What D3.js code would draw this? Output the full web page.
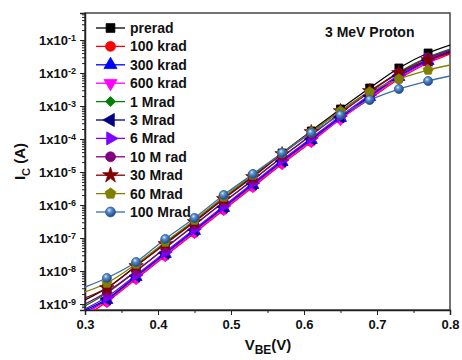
<!DOCTYPE html>
<html>
<head>
<meta charset="utf-8">
<script src="https://cdnjs.cloudflare.com/ajax/libs/d3/7.8.5/d3.min.js"></script>
<style>
  body { margin: 0; background: #fff; }
  svg text { font-family: "Liberation Sans", Arial, sans-serif; font-weight: bold; fill: #111; }
</style>
</head>
<body>
<div id="chart"></div>
<script>
// V_BE sweep (first and last points are only on the fitted lines, no symbol)
var vbe = [0.30, 0.33, 0.37, 0.41, 0.45, 0.49, 0.53, 0.57, 0.61, 0.65, 0.69, 0.73, 0.77, 0.80];

var prerad   = [1.32e-9, 3.05e-9, 1.42e-8, 7.05e-8, 3.27e-7, 1.63e-6, 7.56e-6, 3.76e-5, 1.75e-4, 8.11e-4, 3.51e-3, 1.42e-2, 4.04e-2, 7.05e-2];
var krad100  = [4.33e-10, 1.15e-9, 5.72e-9, 2.85e-8, 1.42e-7, 7.05e-7, 3.51e-6, 1.75e-5, 8.11e-5, 4.04e-4, 1.63e-3, 6.58e-3, 2.01e-2, 3.76e-2];
var krad300  = [5.72e-10, 1.32e-9, 6.58e-9, 3.27e-8, 1.63e-7, 8.11e-7, 4.04e-6, 2.01e-5, 9.33e-5, 4.33e-4, 1.87e-3, 7.56e-3, 2.31e-2, 4.33e-2];
var krad600  = [5.34e-10, 1.23e-9, 6.14e-9, 3.05e-8, 1.52e-7, 7.56e-7, 3.76e-6, 1.87e-5, 8.70e-5, 4.04e-4, 1.75e-3, 7.05e-3, 2.15e-2, 4.04e-2];
var mrad1    = [8.70e-10, 2.15e-9, 1.00e-8, 4.98e-8, 2.48e-7, 1.23e-6, 5.72e-6, 2.85e-5, 1.32e-4, 6.14e-4, 2.66e-3, 1.07e-2, 3.05e-2, 5.34e-2];
var mrad3    = [6.58e-10, 1.42e-9, 7.05e-9, 3.51e-8, 1.75e-7, 8.70e-7, 4.33e-6, 2.15e-5, 1.00e-4, 4.64e-4, 2.01e-3, 8.11e-3, 2.48e-2, 4.64e-2];
var mrad6    = [7.05e-10, 1.63e-9, 7.56e-9, 3.76e-8, 1.87e-7, 9.33e-7, 4.64e-6, 2.31e-5, 1.07e-4, 4.98e-4, 2.15e-3, 8.70e-3, 2.66e-2, 4.98e-2];
var mrad10   = [1.00e-9, 2.31e-9, 1.00e-8, 4.98e-8, 2.48e-7, 1.23e-6, 5.72e-6, 2.85e-5, 1.32e-4, 6.14e-4, 2.66e-3, 1.00e-2, 2.85e-2, 4.98e-2];
var mrad30   = [1.52e-9, 3.05e-9, 1.42e-8, 6.58e-8, 3.05e-7, 1.52e-6, 7.05e-6, 3.51e-5, 1.63e-4, 7.05e-4, 2.85e-3, 1.00e-2, 2.48e-2, 4.04e-2];
var mrad60   = [2.31e-9, 4.33e-9, 1.63e-8, 7.56e-8, 3.51e-7, 1.75e-6, 8.11e-6, 3.76e-5, 1.63e-4, 7.05e-4, 2.66e-3, 6.58e-3, 1.23e-2, 1.75e-2];
var mrad100  = [3.27e-9, 6.14e-9, 1.87e-8, 9.33e-8, 4.04e-7, 2.01e-6, 8.70e-6, 3.76e-5, 1.52e-4, 5.34e-4, 1.52e-3, 3.27e-3, 5.72e-3, 8.11e-3];

var seriesNames = ["prerad", "100 krad", "300 krad", "600 krad", "1 Mrad", "3 Mrad", "6 Mrad", "10 M rad", "30 Mrad", "60 Mrad", "100 Mrad"];
var xTicks = [0.3, 0.4, 0.5, 0.6, 0.7, 0.8];
var yTicks = [1e-9, 1e-8, 1e-7, 1e-6, 1e-5, 1e-4, 1e-3, 1e-2, 1e-1];
var yTickExp = ["-9", "-8", "-7", "-6", "-5", "-4", "-3", "-2", "-1"];

var allData = [prerad, krad100, krad300, krad600, mrad1, mrad3, mrad6, mrad10, mrad30, mrad60, mrad100];
var colors = ["#000000", "#ff0000", "#0000ff", "#ff00ff", "#008000", "#000080", "#8000ff", "#800080", "#800000", "#808000", "#3a6ea8"];

var pentagon = {
    draw: function(ctx, size) {
        var r = Math.sqrt(size / 2.378);
        for (var i = 0; i < 5; i++) {
            var a = -Math.PI / 2 + i * 2 * Math.PI / 5;
            if (i === 0) ctx.moveTo(r * Math.cos(a), r * Math.sin(a));
            else ctx.lineTo(r * Math.cos(a), r * Math.sin(a));
        }
        ctx.closePath();
    }
};
// shape + rotation for every series
var shapes = [
    [d3.symbolSquare, 0], [d3.symbolCircle, 0], [d3.symbolTriangle, 0], [d3.symbolTriangle, 180],
    [d3.symbolSquare, 45], [d3.symbolTriangle, -90], [d3.symbolTriangle, 90], [d3.symbolCircle, 0],
    [d3.symbolStar, 0], [pentagon, 0], [d3.symbolCircle, 0]
];

var W = 462, H = 360;
var margin = {top: 13, left: 85};
var width = 365, height = 297;

var svg = d3.select("#chart").append("svg")
    .attr("width", W)
    .attr("height", H);

var defs = svg.append("defs");
var ball = defs.append("radialGradient").attr("id", "ball")
    .attr("cx", "38%").attr("cy", "32%").attr("r", "65%");
ball.append("stop").attr("offset", "0%").attr("stop-color", "#dbe8f7");
ball.append("stop").attr("offset", "35%").attr("stop-color", "#5b8fcf");
ball.append("stop").attr("offset", "100%").attr("stop-color", "#1d4a85");

defs.append("clipPath").attr("id", "plotclip")
    .append("rect").attr("width", width).attr("height", height);

var x = d3.scaleLinear().domain([0.3, 0.8]).range([0, width]);
var y = d3.scaleLog().domain([6.58e-10, 0.658]).range([height, 0]);

var g = svg.append("g").attr("transform", "translate(" + margin.left + "," + margin.top + ")");

// frame
g.append("rect")
    .attr("width", width).attr("height", height)
    .attr("fill", "none").attr("stroke", "#444").attr("stroke-width", 1.5);

// x axis
var xMinor = [];
for (var v = 0.35; v < 0.8; v += 0.1) xMinor.push(+v.toFixed(2));
g.append("g").attr("transform", "translate(0," + height + ")")
    .call(d3.axisBottom(x).tickValues(xMinor).tickSize(3).tickFormat(""))
    .call(function(s){ s.select(".domain").remove(); });
var xAx = g.append("g").attr("transform", "translate(0," + height + ")")
    .call(d3.axisBottom(x).tickValues(xTicks).tickSize(5).tickPadding(5).tickFormat(d3.format(".1f")));
xAx.selectAll("text").attr("font-size", 13);

// y axis
var yMinor = [];
yTicks.forEach(function(t){
    for (var k = 2; k <= 9; k++) yMinor.push(t * k);
});
yMinor.push(8e-10, 9e-10);
yMinor = yMinor.filter(function(d){ return d >= 6.58e-10 && d <= 0.658; });
g.append("g")
    .call(d3.axisLeft(y).tickValues(yMinor).tickSize(3).tickFormat(""))
    .call(function(s){ s.select(".domain").remove(); });
var yAx = g.append("g")
    .call(d3.axisLeft(y).tickValues(yTicks).tickSize(5).tickPadding(4).tickFormat(""));
yAx.selectAll(".tick text")
    .attr("font-size", 13)
    .each(function(d, i){
        var t = d3.select(this);
        t.text("1x10");
        t.append("tspan").attr("dy", "-0.45em").attr("font-size", 9).text(yTickExp[i]);
    });
svg.selectAll(".domain").attr("stroke", "#222").attr("stroke-width", 1.5);
svg.selectAll(".tick line").attr("stroke", "#222");

// lines
var line = d3.line()
    .x(function(d){ return x(d[0]); })
    .y(function(d){ return y(d[1]); })
    .curve(d3.curveMonotoneX);

var plot = g.append("g").attr("clip-path", "url(#plotclip)");

allData.forEach(function(vals, i){
    var pts = vbe.map(function(v, j){ return [v, vals[j]]; });
    plot.append("path")
        .datum(pts)
        .attr("d", line)
        .attr("fill", "none")
        .attr("stroke", colors[i])
        .attr("stroke-width", 1.3);
});

function fillFor(i){ return i === 10 ? "url(#ball)" : colors[i]; }
function sizeFor(i){ return shapes[i][0] === d3.symbolTriangle ? 62 : (shapes[i][1] === 45 ? 42 : 64); }

allData.forEach(function(vals, i){
    var pts = vbe.map(function(v, j){ return [v, vals[j]]; }).slice(1, -1);
    plot.selectAll(".m" + i)
        .data(pts)
        .enter()
        .append("path")
        .attr("class", "m" + i)
        .attr("transform", function(d){
            return "translate(" + x(d[0]) + "," + y(d[1]) + ") rotate(" + shapes[i][1] + ")";
        })
        .attr("d", d3.symbol().type(shapes[i][0]).size(sizeFor(i)))
        .attr("fill", fillFor(i))
        .attr("stroke", i === 10 ? "#2d5d96" : colors[i])
        .attr("stroke-width", 0.8);
});

// legend
var legend = svg.append("g").attr("transform", "translate(96,28)");
seriesNames.forEach(function(name, i){
    var row = legend.append("g").attr("transform", "translate(0," + (i * 18.4) + ")");
    row.append("line").attr("x1", 0).attr("x2", 29).attr("y1", 0).attr("y2", 0)
        .attr("stroke", colors[i]).attr("stroke-width", 1.3);
    row.append("path")
        .attr("transform", "translate(14.5,0) rotate(" + shapes[i][1] + ")")
        .attr("d", d3.symbol().type(shapes[i][0]).size(sizeFor(i) * 1.2))
        .attr("fill", fillFor(i))
        .attr("stroke", i === 10 ? "#2d5d96" : colors[i])
        .attr("stroke-width", 0.8);
    row.append("text").attr("x", 34).attr("y", 5)
        .attr("font-size", 14)
        .text(name);
});

svg.append("text")
    .attr("x", 325).attr("y", 37)
    .attr("font-size", 14)
    .text("3 MeV Proton");

// axis titles
var xt = svg.append("text")
    .attr("x", 268).attr("y", 350)
    .attr("text-anchor", "middle")
    .attr("font-size", 15);
xt.append("tspan").text("V");
xt.append("tspan").attr("dy", 4).attr("font-size", 12).text("BE");
xt.append("tspan").attr("dy", -4).text("(V)");

var yt = svg.append("text")
    .attr("transform", "translate(25," + (margin.top + height / 2) + ") rotate(-90)")
    .attr("text-anchor", "middle")
    .attr("font-size", 15);
yt.append("tspan").text("I");
yt.append("tspan").attr("dy", 5).attr("font-size", 11).text("C");
yt.append("tspan").attr("dy", -5).text(" (A)");
</script>
</body>
</html>
